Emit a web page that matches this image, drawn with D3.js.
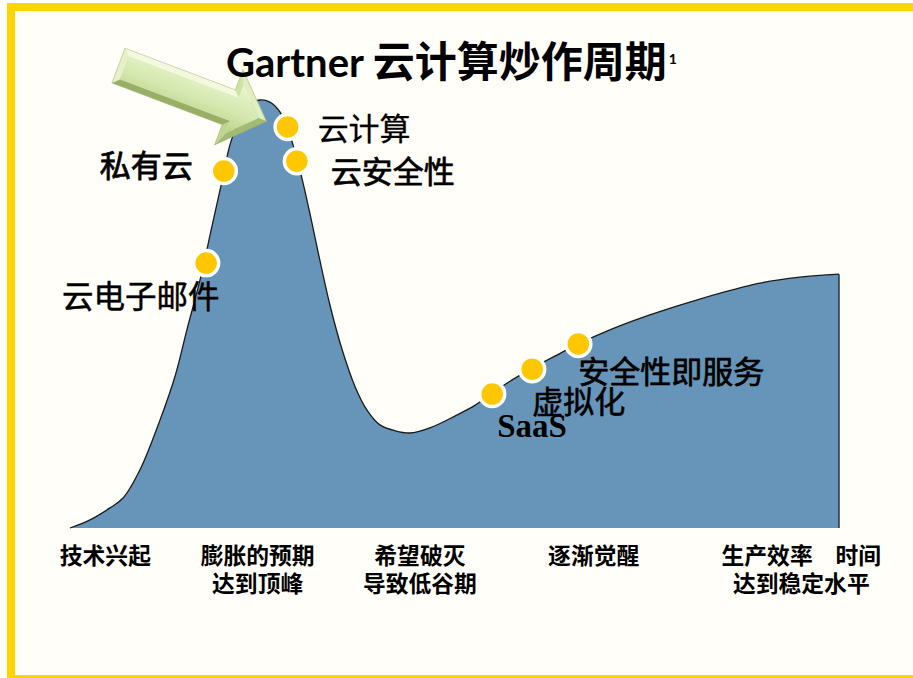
<!DOCTYPE html>
<html>
<head>
<meta charset="utf-8">
<script src="https://cdn.jsdelivr.net/npm/d3@7/dist/d3.min.js"></script>
<style>
  html, body { margin: 0; padding: 0; background: #FFFEF9; }
  svg { display: block; }
</style>
</head>
<body>
<svg id="chart" width="913" height="678"></svg>
<script>
// ---------------- DATA ----------------
// Hype curve: time (0-100) and expectation (0-100)
const curveTime = [0, 2.6, 5.2, 6.9, 9.1, 11.7, 13.7, 15.2, 16.9, 18.5, 19.8, 20.8, 22.1, 23.4, 24.7, 26.0, 27.3, 28.6, 29.9, 31.1, 32.2, 33.8, 35.4, 37.1, 38.6, 40.3, 42.3, 44.2, 46.8, 50.1, 52.7, 54.9, 57.5, 60.2, 63.1, 66.1, 70.2, 75.4, 81.9, 89.7, 94.9, 100];
const curveExpect = [0, 1.9, 4.7, 7.0, 13.6, 25.2, 35.7, 46.3, 57.9, 70.8, 81.3, 89.5, 95.8, 99.1, 100, 99.5, 97.2, 91.8, 83.6, 74.3, 65.0, 52.1, 41.6, 32.9, 27.6, 24.1, 22.7, 22.2, 23.4, 26.2, 28.7, 31.5, 34.6, 37.4, 40.2, 43.0, 46.3, 49.8, 53.5, 57.2, 58.6, 59.3];

// Technologies placed on the curve
const techNames = ["云电子邮件", "私有云", "云计算", "云安全性", "SaaS", "虚拟化", "安全性即服务"];
const techTime = [17.7, 20.0, 28.3, 29.5, 54.9, 60.1, 66.1];
const techExpect = [61.9, 83.4, 93.7, 85.7, 31.3, 37.1, 43.0];

// Phase labels along the time axis
const phaseLines = [["技术兴起"], ["膨胀的预期", "达到顶峰"], ["希望破灭", "导致低谷期"], ["逐渐觉醒"], ["生产效率\u3000时间", "达到稳定水平"]];
const phaseTime = [4.6, 24.4, 45.5, 68.1, 95.1];

const titleLatin = "Gartner ";
const titleCJK = "云计算炒作周期";
const titleNote = "1";

// ---------------- LAYOUT ----------------
const W = 913, H = 678;
const svg = d3.select("#chart");
const x = d3.scaleLinear().domain([0, 100]).range([70, 839]);
const y = d3.scaleLinear().domain([0, 100]).range([528, 100]);

// label offsets relative to dot (layout only)
const CJK = "'Noto Sans CJK SC'";
const labelLayout = [
  {dx: -144, dy: 45, family: CJK, size: 31.5, weight: 400, sw: 0.5},
  {dx: -124, dy: 6, family: CJK, size: 31, weight: 400, sw: 0.8},
  {dx: 30, dy: 13, family: CJK, size: 31, weight: 400, sw: 0.3},
  {dx: 34, dy: 22, family: CJK, size: 31, weight: 400, sw: 0.7},
  {dx: 5, dy: 43, family: "'Liberation Serif', serif", size: 33, weight: 700, sw: 0},
  {dx: 0, dy: 44, family: CJK, size: 31, weight: 400, sw: 0.6},
  {dx: 0, dy: 39, family: CJK, size: 31, weight: 400, sw: 0.7}
];

// background
svg.append("rect").attr("width", W).attr("height", H).attr("fill", "#FFFEF9");

// ---------------- CURVE ----------------
const pts = curveTime.map((t, i) => ({t, v: curveExpect[i]}));
const area = d3.area().x(d => x(d.t)).y0(y(0)).y1(d => y(d.v)).curve(d3.curveCatmullRom.alpha(0.5));
const line = d3.line().x(d => x(d.t)).y(d => y(d.v)).curve(d3.curveCatmullRom.alpha(0.5));

svg.append("path").datum(pts).attr("d", area).attr("fill", "#6795BA");
svg.append("path").datum(pts).attr("d", line).attr("fill", "none").attr("stroke", "#1a1a1a").attr("stroke-width", 1.3);
const last = pts[pts.length - 1];
svg.append("path").datum([last, {t: last.t, v: 0}])
  .attr("d", d3.line().x(d => x(d.t)).y(d => y(d.v)))
  .attr("stroke", "#1a1a1a").attr("stroke-width", 1.3).attr("fill", "none");

// ---------------- ARROW (3D bevel) ----------------
const defs = svg.append("defs");
const g1 = defs.append("linearGradient").attr("id", "arrFace").attr("x1", 0).attr("y1", 0).attr("x2", 0).attr("y2", 1);
g1.append("stop").attr("offset", "0%").attr("stop-color", "#EAF5CF");
g1.append("stop").attr("offset", "55%").attr("stop-color", "#D5E8AE");
g1.append("stop").attr("offset", "100%").attr("stop-color", "#BAD28A");

const outer = [[0, -18.5], [118, -18.5], [118, -40], [158, 0], [118, 40], [118, 18.5], [0, 18.5]];
const inner = [[6, -12.5], [124, -12.5], [124, -25.5], [149.5, 0], [124, 25.5], [124, 12.5], [6, 12.5]];
const facetCols = ["#F2F9DE", "#CFE3A4", "#E0EEC0", "#A3BA72", "#BFD692", "#98AF66", "#E6F1C9"];
const arrow = svg.append("g").attr("transform", "translate(118.5,65.5) rotate(20.7)");
outer.forEach((p, i) => {
  const j = (i + 1) % outer.length;
  const quad = [p, outer[j], inner[j], inner[i]];
  arrow.append("path").attr("d", "M" + quad.map(q => q.join(",")).join("L") + "Z")
    .attr("fill", facetCols[i]).attr("stroke", facetCols[i]).attr("stroke-width", 0.5);
});
arrow.append("path").attr("d", "M" + inner.map(q => q.join(",")).join("L") + "Z").attr("fill", "url(#arrFace)");
arrow.append("path").attr("d", "M" + outer.map(q => q.join(",")).join("L") + "Z")
  .attr("fill", "none").attr("stroke", "#9AAF69").attr("stroke-width", 0.6).attr("opacity", 0.7);

// ---------------- DOTS + LABELS ----------------
const techs = techNames.map((n, i) => ({name: n, t: techTime[i], v: techExpect[i], L: labelLayout[i]}));
svg.selectAll("circle.dot").data(techs).enter().append("circle")
  .attr("class", "dot")
  .attr("cx", d => x(d.t)).attr("cy", d => y(d.v)).attr("r", 12.5)
  .attr("fill", "#FFC700").attr("stroke", "#FFFFFF").attr("stroke-width", 3.5);

svg.selectAll("text.tech").data(techs).enter().append("text")
  .attr("class", "tech")
  .attr("x", d => x(d.t) + d.L.dx).attr("y", d => y(d.v) + d.L.dy)
  .attr("font-family", d => d.L.family).attr("font-size", d => d.L.size).attr("font-weight", d => d.L.weight)
  .attr("stroke", "#000").attr("stroke-width", d => d.L.sw)
  .attr("fill", "#000").text(d => d.name);

// ---------------- PHASE LABELS ----------------
const phases = phaseLines.map((lines, i) => ({lines, t: phaseTime[i]}));
phases.forEach(p => {
  p.lines.forEach((l, k) => {
    svg.append("text")
      .attr("class", "phase")
      .attr("font-family", CJK).attr("font-weight", 700).attr("font-size", 22.8)
      .attr("text-anchor", "middle").attr("fill", "#000")
      .attr("x", x(p.t)).attr("y", 564 + k * 27.5).text(l);
  });
});

// ---------------- TITLE ----------------
const title = svg.append("text").attr("x", 226).attr("y", 77)
  .attr("font-family", "Lato, " + CJK).attr("font-weight", 700).attr("fill", "#000");
title.append("tspan").attr("font-size", 40).text(titleLatin);
title.append("tspan").attr("font-size", 42).attr("font-family", CJK).text(titleCJK);
title.append("tspan").attr("font-size", 14).attr("font-family", "Lato").attr("dy", -13).attr("dx", 2).text(titleNote);

// ---------------- FRAME ----------------
svg.append("rect").attr("x", 11).attr("y", 7).attr("width", W + 20).attr("height", 672)
  .attr("fill", "none").attr("stroke", "#FFD500").attr("stroke-width", 8);
</script>
</body>
</html>
